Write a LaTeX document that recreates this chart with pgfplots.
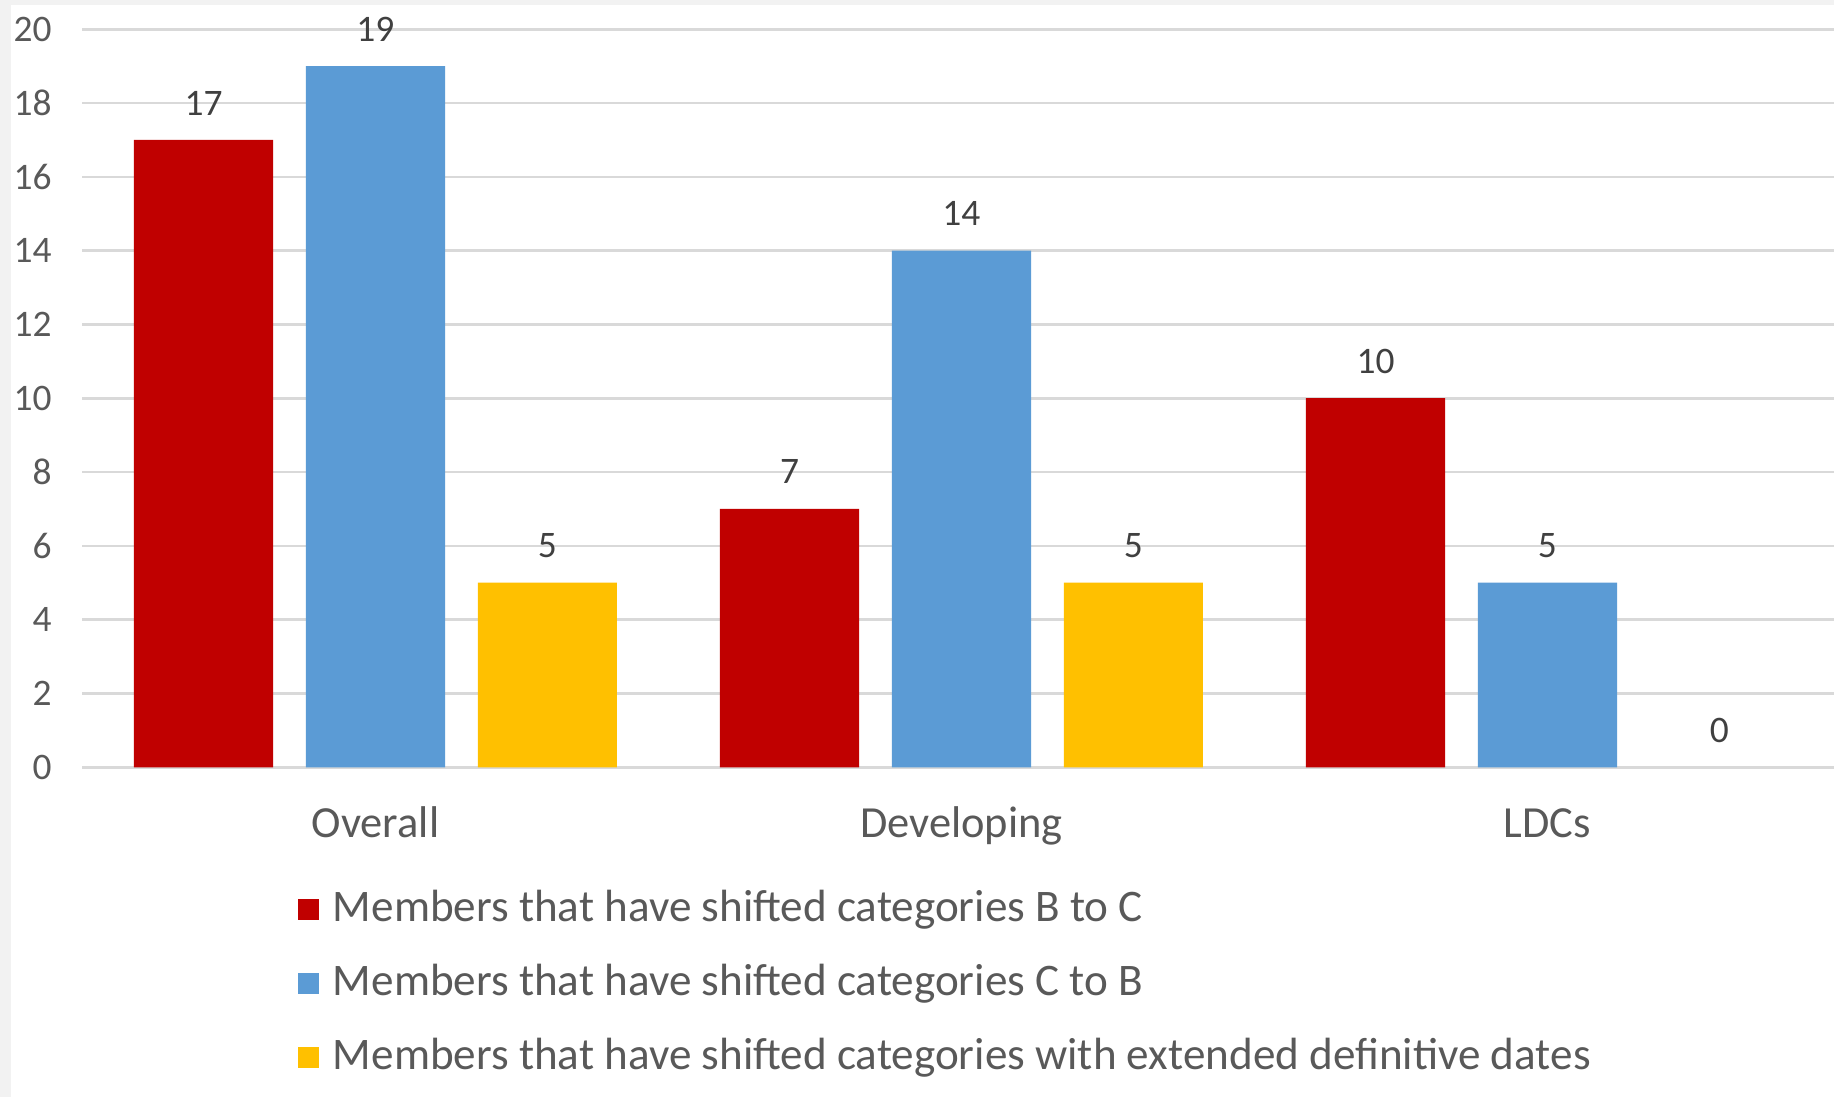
\documentclass[border=0pt]{standalone}
\usepackage{pgfplots}
\pgfplotsset{compat=1.18}
\usepackage{fontspec}
\setmainfont{Carlito}
\definecolor{cRed}{HTML}{C00000}
\definecolor{cBlue}{HTML}{5B9BD5}
\definecolor{cYel}{HTML}{FFC000}
\definecolor{cGrid}{HTML}{D9D9D9}
\definecolor{cTxt}{HTML}{595959}
\definecolor{cLab}{HTML}{404040}
\definecolor{cBg}{HTML}{F2F2F2}
\begin{document}
\begin{tikzpicture}
\useasboundingbox (0,0) rectangle (392pt,234.5pt);
\fill[cBg] (0,0) rectangle (392pt,234.5pt);
\fill[white] (2.4pt,0) rectangle (392pt,233.4pt);
\begin{axis}[
  at={(17.625pt,70.5pt)}, anchor=south west,
  scale only axis, width=374.5pt, height=157.75pt,
  xmin=-0.5, xmax=2.49, ymin=0, ymax=20,
  ybar, bar width=29.75pt,
  axis line style={draw=none},
  major tick length=0pt,
  ymajorgrids, grid style={cGrid, line width=0.55pt},
  ytick={0,2,...,20},
  xtick={0,1,2},
  xticklabels={Overall,Developing,LDCs},
  /pgf/number format/assume math mode=true,
  yticklabel style={font=\fontsize{8}{9.6}\selectfont, text=cTxt, inner sep=0pt, xshift=-6.4pt},
  xticklabel style={font=\fontsize{9.5}{11.4}\selectfont, text=cTxt, anchor=base, inner sep=0pt, yshift=-15pt},
  nodes near coords,
  every node near coord/.append style={font=\fontsize{8}{9.6}\selectfont, text=cLab, anchor=center, yshift=7.9pt},
  every axis plot post/.append style={legend image code/.code={\fill[##1] (0pt,-2.25pt) rectangle (4.5pt,2.25pt);}},
  legend cell align=left,
  legend style={at={(0.1232,-0.1648)}, anchor=north west, draw=none, fill=none,
    inner sep=0pt, outer sep=0pt, row sep=6.75pt, column sep=2.9pt,
    font=\fontsize{9.65}{11.6}\selectfont, text=cTxt,
    nodes={inner sep=0pt, text height=7pt, text depth=2pt}},
]
\addplot[fill=cRed, draw=none, bar shift=-36.75pt] coordinates {(0,17) (1,7) (2,10)};
\addplot[fill=cBlue, draw=none, bar shift=0pt] coordinates {(0,19) (1,14) (2,5)};
\addplot[fill=cYel, draw=none, bar shift=36.75pt] coordinates {(0,5) (1,5)};
\addplot[fill=none, draw=none, bar shift=36.75pt, forget plot] coordinates {(2,0)};
\legend{Members that have shifted categories B to C,
        Members that have shifted categories C to B,
        Members that have shifted categories with extended definitive dates}
\end{axis}
\end{tikzpicture}
\end{document}
